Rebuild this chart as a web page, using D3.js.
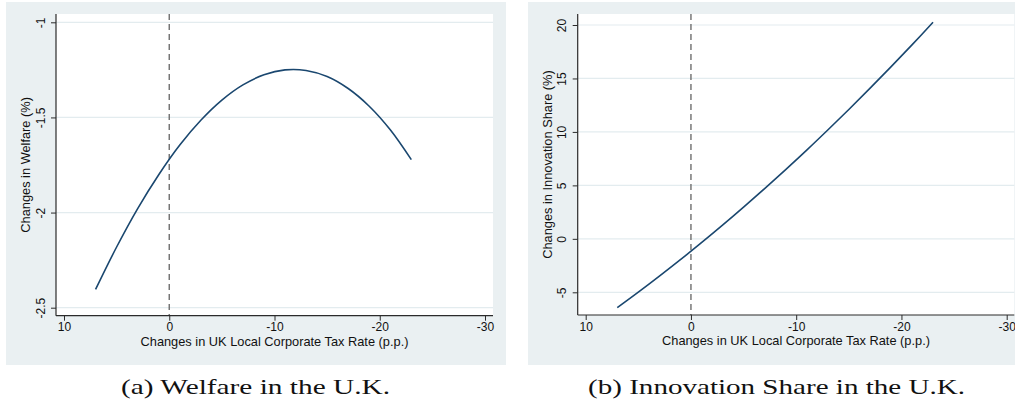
<!DOCTYPE html>
<html>
<head>
<meta charset="utf-8">
<script src="https://cdn.jsdelivr.net/npm/d3@7"></script>
<style>
  html, body { margin: 0; padding: 0; background: #ffffff; }
  svg { display: block; }
  .axis text { font-family: "Liberation Sans", Arial, Helvetica, sans-serif; font-size: 12px; fill: #111; }
  .title { font-family: "Liberation Sans", Arial, Helvetica, sans-serif; font-size: 12.8px; fill: #111; }
  .caption { font-family: "Liberation Serif", "Times New Roman", serif; font-size: 21.5px; fill: #111; }
</style>
</head>
<body>
<script>
// Simulated change in UK local corporate tax rate (percentage points)
const taxChange = [7, 5, 3, 1, -1, -3, -5, -7, -9, -11, -13, -15, -17, -19, -21, -23];

// Resulting change in UK welfare (%)
const welfareChange = [-2.404, -2.181, -1.979, -1.801, -1.645, -1.515, -1.409, -1.329,
                       -1.276, -1.250, -1.253, -1.285, -1.348, -1.441, -1.565, -1.722];

// Resulting change in UK innovation share (%)
const innovationShareChange = [-6.44, -4.99, -3.49, -1.95, -0.36, 1.28, 2.97, 4.70,
                               6.48, 8.30, 10.18, 12.10, 14.07, 16.08, 18.14, 20.25];

// Tick labels
const xTicks = [10, 0, -10, -20, -30];
const welfareTicks = [-1, -1.5, -2, -2.5];
const innovationTicks = [20, 15, 10, 5, 0, -5];

const xTitle = "Changes in UK Local Corporate Tax Rate (p.p.)";

const panels = [
  {
    values: welfareChange,
    yTicks: welfareTicks,
    yTitle: "Changes in Welfare (%)",
    caption: "(a) Welfare in the U.K.",
    bg: { x: 6, y: 2, w: 500, h: 363 },
    plot: { left: 56, top: 14, right: 493, bottom: 315.7 },
    xRange: [64, 485],
    yRange: [22.3, 307.7],
    captionCenter: 255.5, captionWidth: 269
  },
  {
    values: innovationShareChange,
    yTicks: innovationTicks,
    yTitle: "Changes in Innovation Share (%)",
    caption: "(b) Innovation Share in the U.K.",
    bg: { x: 528, y: 2, w: 520, h: 363 },
    plot: { left: 577.7, top: 14, right: 1014.3, bottom: 315 },
    xRange: [585.7, 1006.7],
    yRange: [25, 292.3],
    captionCenter: 776.5, captionWidth: 377
  }
];

const W = 1015, H = 404;
const bgColor = "#eaf0f2";
const gridColor = "#e3ecef";
const lineColor = "#1a476f";
const axisColor = "#2b2b2b";

const svg = d3.select("body").append("svg")
  .attr("width", W).attr("height", H)
  .attr("viewBox", `0 0 ${W} ${H}`);

panels.forEach(p => {
  const g = svg.append("g");
  const { left, top, right, bottom } = p.plot;

  // graph region and plot region
  g.append("rect")
    .attr("x", p.bg.x).attr("y", p.bg.y)
    .attr("width", p.bg.w).attr("height", p.bg.h)
    .attr("fill", bgColor);
  g.append("rect")
    .attr("x", left).attr("y", top)
    .attr("width", right - left).attr("height", bottom - top)
    .attr("fill", "#ffffff");

  const x = d3.scaleLinear().domain([xTicks[0], xTicks[xTicks.length - 1]]).range(p.xRange);
  const y = d3.scaleLinear().domain([p.yTicks[0], p.yTicks[p.yTicks.length - 1]]).range(p.yRange);

  // horizontal gridlines
  g.append("g").selectAll("line").data(p.yTicks).join("line")
    .attr("x1", left).attr("x2", right)
    .attr("y1", d => y(d)).attr("y2", d => y(d))
    .attr("stroke", gridColor).attr("stroke-width", 1.2);

  // reference line at no change in the tax rate
  g.append("line")
    .attr("x1", x(0)).attr("x2", x(0))
    .attr("y1", top).attr("y2", bottom)
    .attr("stroke", "#6f6f6f").attr("stroke-width", 1.4)
    .attr("stroke-dasharray", "6,4");

  // simulated response curve
  const pts = taxChange.map((t, i) => [t, p.values[i]]);
  g.append("path")
    .datum(pts)
    .attr("fill", "none")
    .attr("stroke", lineColor)
    .attr("stroke-width", 1.6)
    .attr("d", d3.line().x(d => x(d[0])).y(d => y(d[1])).curve(d3.curveCatmullRom.alpha(0.5)));

  // x axis
  const xAxis = g.append("g").attr("class", "axis")
    .attr("transform", `translate(0,${bottom})`)
    .call(d3.axisBottom(x).tickValues(xTicks).tickSize(5).tickSizeOuter(0).tickPadding(2)
      .tickFormat(d => d3.format("d")(d).replace("−", "-")));
  xAxis.select(".domain").remove();
  xAxis.selectAll(".tick line").attr("stroke", axisColor);
  g.append("line")
    .attr("x1", left).attr("x2", right)
    .attr("y1", bottom).attr("y2", bottom)
    .attr("stroke", axisColor).attr("stroke-width", 1.2);

  // y axis with vertical tick labels
  const yAxis = g.append("g").attr("class", "axis")
    .attr("transform", `translate(${left},0)`)
    .call(d3.axisLeft(y).tickValues(p.yTicks).tickSize(5).tickSizeOuter(0)
      .tickFormat(d => String(d)));
  yAxis.select(".domain").remove();
  yAxis.selectAll(".tick line").attr("stroke", axisColor);
  yAxis.selectAll(".tick text")
    .attr("x", null).attr("dy", null)
    .attr("text-anchor", "middle")
    .attr("transform", "translate(-11.5,0) rotate(-90)");
  g.append("line")
    .attr("x1", left).attr("x2", left)
    .attr("y1", top).attr("y2", bottom)
    .attr("stroke", axisColor).attr("stroke-width", 1.2);

  // axis titles
  g.append("text").attr("class", "title")
    .attr("x", (left + right) / 2).attr("y", bottom + 30)
    .attr("text-anchor", "middle")
    .text(xTitle);
  g.append("text").attr("class", "title")
    .attr("text-anchor", "middle")
    .attr("transform", `translate(${left - 26},${(top + bottom) / 2}) rotate(-90)`)
    .text(p.yTitle);

  // sub-figure caption
  g.append("text").attr("class", "caption")
    .attr("x", p.captionCenter).attr("y", 394)
    .attr("text-anchor", "middle")
    .attr("textLength", p.captionWidth)
    .attr("lengthAdjust", "spacingAndGlyphs")
    .text(p.caption);
});
</script>
</body>
</html>
